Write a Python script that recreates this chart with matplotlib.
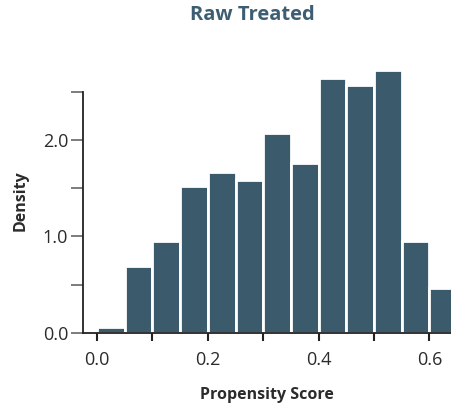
import matplotlib.pyplot as plt
import numpy as np

# histogram bins (width 0.05) and density heights
bin_edges = np.round(np.arange(0.0, 0.70, 0.05), 2)
density = [0.055, 0.69, 0.95, 1.52, 1.665, 1.59, 2.07, 1.76, 2.64, 2.57, 2.73, 0.95, 0.46]

bar_color = '#3b5b6d'
text_color = '#2b2b2b'

plt.rcParams['font.family'] = ['Open Sans', 'DejaVu Sans']

fig = plt.figure(figsize=(4.51, 4.08), dpi=100)
ax = fig.add_axes([0.1834, 0.1846, 0.8166, 0.649])

ax.bar(bin_edges[:-1], density, width=0.05, align='edge',
       color=bar_color, edgecolor='white', linewidth=2)

ax.set_xlim(-0.026, 0.639)
ax.set_ylim(0, 2.75)

# spines: only left and bottom
for side in ['top', 'right']:
    ax.spines[side].set_visible(False)
ax.spines['left'].set_bounds(0, 2.5)
ax.spines['left'].set_color('#222222')
ax.spines['bottom'].set_color('#222222')
ax.spines['left'].set_linewidth(1.3)
ax.spines['bottom'].set_linewidth(1.3)

ax.set_xticks([0.0, 0.1, 0.2, 0.3, 0.4, 0.5, 0.6])
ax.set_xticklabels(['0.0', '', '0.2', '', '0.4', '', '0.6'])
ax.set_yticks([0.0, 0.5, 1.0, 1.5, 2.0, 2.5])
ax.set_yticklabels(['0.0', '', '1.0', '', '2.0', ''])
ax.tick_params(axis='x', length=6, width=1.5, color='#222222', pad=7,
               labelsize=13, labelcolor=text_color)
ax.tick_params(axis='y', length=8.5, width=1.2, color='#666666', pad=2,
               labelsize=13, labelcolor=text_color)

ax.set_xlabel('Propensity Score', fontsize=11.5, fontweight='bold',
              color=text_color, labelpad=13)
ax.set_ylabel('Density', fontsize=11.5, fontweight='bold',
              color=text_color, labelpad=10)

fig.text(252 / 451, 1 - 15 / 408, 'Raw Treated', fontsize=14.5,
         fontweight='bold', color='#3d5e72', ha='center', va='center')

plt.savefig('out.png', dpi=100)
